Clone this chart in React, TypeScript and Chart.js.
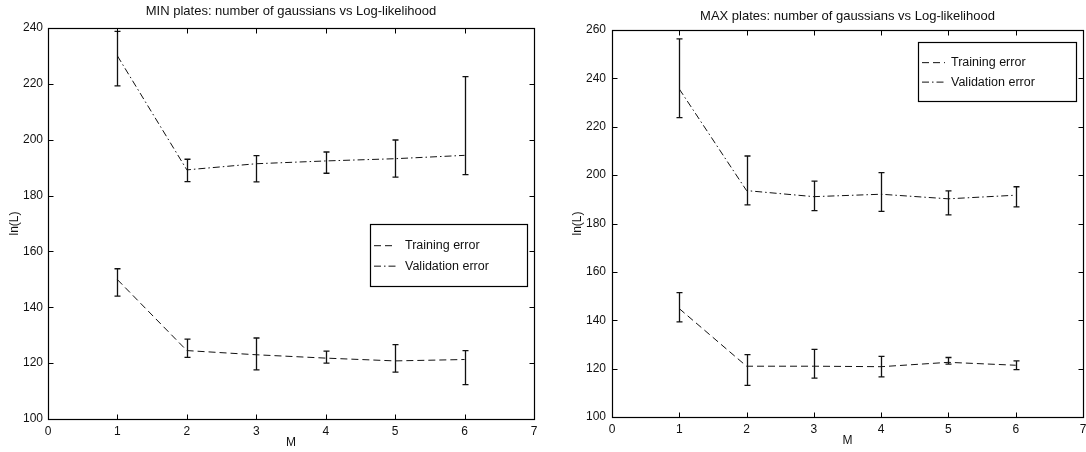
import React, { useEffect, useRef } from "react";
import { Chart, registerables } from "chart.js";

Chart.register(...registerables);

// ---------- data ----------
const mValues = [1, 2, 3, 4, 5, 6];
const seriesLabels = ["Training error", "Validation error"];

// MIN plates
const minTrain = [149.9, 124.5, 123.0, 121.8, 120.8, 121.3];
const minTrainLo = [144.0, 122.1, 117.6, 120.0, 116.8, 112.3];
const minTrainHi = [153.8, 128.6, 129.0, 124.3, 126.6, 124.5];
const minValid = [230.0, 189.2, 191.4, 192.4, 193.2, 194.4];
const minValidLo = [219.3, 185.0, 184.9, 188.0, 186.6, 187.5];
const minValidHi = [238.8, 193.0, 194.3, 195.6, 199.9, 222.6];

// MAX plates
const maxTrain = [144.8, 121.0, 121.0, 120.8, 122.6, 121.4];
const maxTrainLo = [139.3, 113.1, 116.1, 116.6, 121.9, 119.6];
const maxTrainHi = [151.4, 125.8, 128.0, 125.1, 124.6, 123.2];
const maxValid = [235.6, 193.6, 191.1, 192.1, 190.2, 191.7];
const maxValidLo = [223.8, 187.7, 185.3, 185.0, 183.6, 186.9];
const maxValidHi = [256.3, 207.9, 197.5, 201.0, 193.5, 195.2];

const minTitle = "MIN plates: number of gaussians vs Log-likelihood";
const maxTitle = "MAX plates: number of gaussians vs Log-likelihood";
const xTitle = "M";
const yTitle = "ln(L)";

// ---------- styling ----------
const FONT = "'Liberation Sans', Arial, Helvetica, sans-serif";
const INK = "#111";
const trainDash = [7, 4];
const validDash = [7, 3, 1.5, 3];

const framePlugin = {
  id: "frameBars",
  afterDatasetsDraw(chart: any, _args: any, opts: any) {
    const { ctx, chartArea: a, scales } = chart;
    const xs = scales.x;
    const ys = scales.y;
    ctx.save();
    // error bars
    chart.data.datasets.forEach((ds: any, i: number) => {
      const meta = chart.getDatasetMeta(i);
      ctx.strokeStyle = INK;
      ctx.lineWidth = 1.3;
      ctx.setLineDash([]);
      meta.data.forEach((pt: any, j: number) => {
        const px = Math.round(pt.x) + 0.5;
        const yl = ys.getPixelForValue(ds.errLo[j]);
        const yh = ys.getPixelForValue(ds.errHi[j]);
        ctx.beginPath();
        ctx.moveTo(px, yl);
        ctx.lineTo(px, yh);
        ctx.moveTo(px - 3, yl);
        ctx.lineTo(px + 3, yl);
        ctx.moveTo(px - 3, yh);
        ctx.lineTo(px + 3, yh);
        ctx.stroke();
      });
    });
    // frame
    ctx.strokeStyle = "#000";
    ctx.lineWidth = 1.2;
    const L = Math.round(a.left) + 0.5;
    const R = Math.round(a.right) + 0.5;
    const T = Math.round(a.top) + 0.5;
    const B = Math.round(a.bottom) + 0.5;
    ctx.strokeRect(L, T, R - L, B - T);
    // inward ticks on all four sides
    ctx.lineWidth = 1;
    ctx.beginPath();
    xs.ticks.forEach((t: any) => {
      const px = Math.round(xs.getPixelForValue(t.value)) + 0.5;
      ctx.moveTo(px, B);
      ctx.lineTo(px, B - 5);
      ctx.moveTo(px, T);
      ctx.lineTo(px, T + 5);
    });
    ys.ticks.forEach((t: any) => {
      const py = Math.round(ys.getPixelForValue(t.value)) + 0.5;
      ctx.moveTo(L, py);
      ctx.lineTo(L + 5, py);
      ctx.moveTo(R, py);
      ctx.lineTo(R - 5, py);
    });
    ctx.stroke();
    // legend box
    const lg = opts.box;
    if (lg) {
      ctx.fillStyle = "#fff";
      ctx.fillRect(lg.left, lg.top, lg.width, lg.height);
      ctx.strokeStyle = "#000";
      ctx.lineWidth = 1.2;
      ctx.strokeRect(lg.left + 0.5, lg.top + 0.5, lg.width, lg.height);
      ctx.font = `${lg.fontSize}px ${FONT}`;
      ctx.textBaseline = "middle";
      ctx.textAlign = "left";
      chart.data.datasets.forEach((ds: any, i: number) => {
        const ry = lg.top + lg.height * lg.rows[i];
        ctx.strokeStyle = INK;
        ctx.lineWidth = 1;
        ctx.setLineDash(ds.borderDash || []);
        ctx.beginPath();
        ctx.moveTo(lg.left + lg.sampleStart, ry);
        ctx.lineTo(lg.left + lg.sampleEnd, ry);
        ctx.stroke();
        ctx.setLineDash([]);
        ctx.fillStyle = INK;
        ctx.fillText(ds.label, lg.left + lg.textStart, ry);
      });
    }
    ctx.restore();
  },
};

type PanelProps = {
  left: number;
  width: number;
  title: string;
  train: number[];
  trainLo: number[];
  trainHi: number[];
  valid: number[];
  validLo: number[];
  validHi: number[];
  yMin: number;
  yMax: number;
  padRight: number;
  yAxisWidth: number;
  xAxisHeight: number;
  titleTop: number;
  titleBottom: number;
  yTitleOffset: number;
  xTitleOffset: number;
  yTickPad: number;
  box: any;
};

function Panel(p: PanelProps) {
  const ref = useRef<HTMLCanvasElement | null>(null);
  useEffect(() => {
    const tickFont = { family: FONT, size: 12 };
    const chart = new Chart(ref.current as HTMLCanvasElement, {
      type: "line",
      data: {
        datasets: [
          {
            label: seriesLabels[0],
            data: mValues.map((m, i) => ({ x: m, y: p.train[i] })),
            errLo: p.trainLo,
            errHi: p.trainHi,
            borderColor: INK,
            borderWidth: 1,
            borderDash: trainDash,
            pointRadius: 0,
            fill: false,
            tension: 0,
          } as any,
          {
            label: seriesLabels[1],
            data: mValues.map((m, i) => ({ x: m, y: p.valid[i] })),
            errLo: p.validLo,
            errHi: p.validHi,
            borderColor: INK,
            borderWidth: 1,
            borderDash: validDash,
            pointRadius: 0,
            fill: false,
            tension: 0,
          } as any,
        ],
      },
      options: {
        responsive: false,
        animation: false,
        layout: { padding: { left: 0, right: p.padRight, top: 0, bottom: 0 } },
        plugins: {
          legend: { display: false },
          tooltip: { enabled: false },
          title: {
            display: true,
            text: p.title,
            fullSize: false,
            color: INK,
            font: { family: FONT, size: 13, weight: "normal" },
            padding: { top: p.titleTop, bottom: p.titleBottom },
          },
          frameBars: { box: p.box },
        } as any,
        scales: {
          x: {
            type: "linear",
            min: 0,
            max: 7,
            ticks: { stepSize: 1, color: INK, font: tickFont, padding: 5, autoSkip: false, maxRotation: 0 },
            grid: { display: false, drawTicks: false },
            border: { display: false },
            title: {
              display: true,
              text: xTitle,
              color: INK,
              font: { family: FONT, size: 12 },
              padding: { top: 0, bottom: p.xTitleOffset },
            },
            afterFit: (s: any) => {
              s.height = p.xAxisHeight;
            },
          },
          y: {
            type: "linear",
            min: p.yMin,
            max: p.yMax,
            ticks: { stepSize: 20, color: INK, font: tickFont, padding: p.yTickPad },
            grid: { display: false, drawTicks: false },
            border: { display: false },
            title: {
              display: true,
              text: yTitle,
              color: INK,
              font: { family: FONT, size: 12 },
              padding: { top: p.yTitleOffset, bottom: 0 },
            },
            afterFit: (s: any) => {
              s.width = p.yAxisWidth;
            },
          },
        },
      } as any,
      plugins: [framePlugin as any],
    });
    return () => chart.destroy();
  }, []);
  return (
    <canvas
      ref={ref}
      width={p.width}
      height={452}
      style={{ position: "absolute", left: p.left, top: 0, width: p.width, height: 452 }}
    />
  );
}

export default function App() {
  return (
    <div
      style={{
        position: "absolute",
        left: 0,
        top: 0,
        width: 1086,
        height: 452,
        overflow: "hidden",
        background: "#fff",
      }}
    >
      <Panel
        left={0}
        width={545}
        title={minTitle}
        train={minTrain}
        trainLo={minTrainLo}
        trainHi={minTrainHi}
        valid={minValid}
        validLo={minValidLo}
        validHi={minValidHi}
        yMin={100}
        yMax={240}
        padRight={11}
        yAxisWidth={48}
        xAxisHeight={33}
        titleTop={3.2}
        titleBottom={9.2}
        yTitleOffset={7.8}
        xTitleOffset={1.8}
        yTickPad={5}
        box={{ left: 370, top: 224, width: 157, height: 62, rows: [0.35, 0.68], sampleStart: 4, sampleEnd: 26, textStart: 35, fontSize: 12.5 }}
      />
      <Panel
        left={545}
        width={560}
        title={maxTitle}
        train={maxTrain}
        trainLo={maxTrainLo}
        trainHi={maxTrainHi}
        valid={maxValid}
        validLo={maxValidLo}
        validHi={maxValidHi}
        yMin={100}
        yMax={260}
        padRight={22}
        yAxisWidth={67}
        xAxisHeight={35}
        titleTop={8.2}
        titleBottom={6.2}
        yTitleOffset={25.8}
        xTitleOffset={3.8}
        yTickPad={6}
        box={{ left: 373, top: 42, width: 158, height: 59, rows: [0.35, 0.68], sampleStart: 4, sampleEnd: 27, textStart: 33, fontSize: 12.5 }}
      />
    </div>
  );
}
